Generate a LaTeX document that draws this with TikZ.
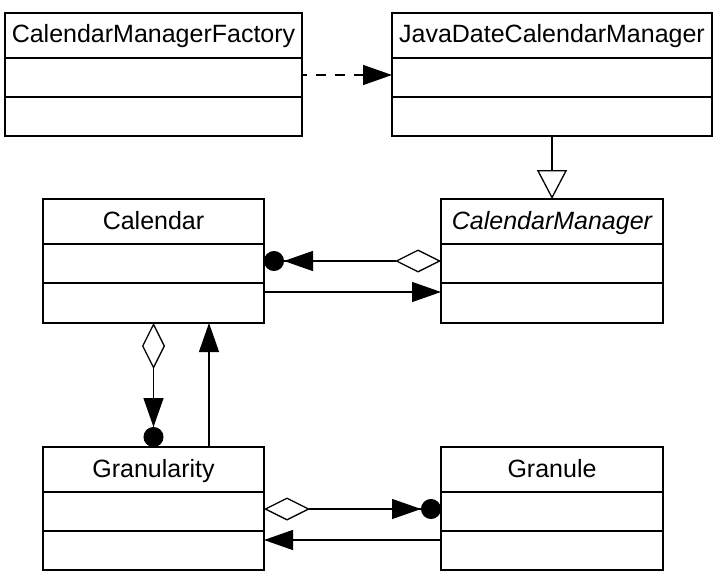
\documentclass[tikz,border=0pt]{standalone}
\usepackage{fontspec}
\setmainfont{Liberation Sans}
\usetikzlibrary{arrows.meta,positioning}

\tikzset{
    odiam/.tip={Diamond[open,length=46pt,width=23pt]},
    fhead/.tip={Triangle[length=29pt,width=20pt]},
    headdot/.tip={Triangle[length=29pt,width=20pt] Circle[length=20pt]},
    ohead/.tip={Triangle[open,length=29pt,width=30pt]}
}

\begin{document}
\begin{tikzpicture}[x=1pt, y=-1pt,
    box/.style={draw, line width=1.6pt, outer sep=0pt, inner sep=0pt},
    classname/.style={box, minimum height=45pt, text height=20pt, text depth=5pt,
        font=\fontsize{25}{30}\selectfont},
    classpart/.style={box, minimum height=39pt},
    link/.style={line width=1.3pt},
    assoc/.style={link, -fhead},
    aggr/.style={link, odiam-headdot},
    depend/.style={link, dash pattern=on 10pt off 9pt, dash phase=5pt, -fhead},
    inherit/.style={link, -ohead}]
    \useasboundingbox (0,0) rectangle (726,578);

    % top row
    \node[classname, minimum width=297pt] (fac) at (153.5,35.5) {CalendarManagerFactory};
    \node[classpart, minimum width=297pt, below=0pt of fac] (fac-a) {};
    \node[classpart, minimum width=297pt, below=0pt of fac-a] (fac-m) {};

    \node[classname, minimum width=320pt] (jdcm) at (552,35.5) {JavaDateCalendarManager};
    \node[classpart, minimum width=320pt, below=0pt of jdcm] (jdcm-a) {};
    \node[classpart, minimum width=320pt, below=0pt of jdcm-a] (jdcm-m) {};

    % middle row
    \node[classname, minimum width=221pt] (cal) at (153.5,221.5) {Calendar};
    \node[classpart, minimum width=221pt, below=0pt of cal] (cal-a) {};
    \node[classpart, minimum width=221pt, minimum height=40pt, below=0pt of cal-a] (cal-m) {};

    \node[classname, minimum width=222pt] (cm) at (552,221.5) {\itshape CalendarManager};
    \node[classpart, minimum width=222pt, below=0pt of cm] (cm-a) {};
    \node[classpart, minimum width=222pt, minimum height=40pt, below=0pt of cm-a] (cm-m) {};

    % bottom row
    \node[classname, minimum width=221pt] (gran) at (153.5,469.5) {Granularity};
    \node[classpart, minimum width=221pt, below=0pt of gran] (gran-a) {};
    \node[classpart, minimum width=221pt, below=0pt of gran-a] (gran-m) {};

    \node[classname, minimum width=222pt] (granule) at (552,469.5) {Granule};
    \node[classpart, minimum width=222pt, below=0pt of granule] (granule-a) {};
    \node[classpart, minimum width=222pt, below=0pt of granule-a] (granule-m) {};

    % relations
    \draw[depend] ([yshift=2.5pt]fac-a.east) -- ([yshift=2.5pt]jdcm-a.west);
    \draw[inherit] (jdcm-m.south) -- (cm.north);
    \draw[aggr] ([yshift=2.5pt]cm-a.west) -- ([yshift=2.5pt]cal-a.east);
    \draw[assoc] ([yshift=-9pt]cal-m.north east) -- ([yshift=-9pt]cm-m.north west);
    \draw[aggr] (cal-m.south) -- (gran.north);
    \draw[assoc] ([xshift=55.5pt]gran.north) -- ([xshift=55.5pt]cal-m.south);
    \draw[aggr] ([yshift=2.5pt]gran-a.east) -- ([yshift=2.5pt]granule-a.west);
    \draw[assoc] ([yshift=-9pt]granule-m.north west) -- ([yshift=-9pt]gran-m.north east);
\end{tikzpicture}
\end{document}
